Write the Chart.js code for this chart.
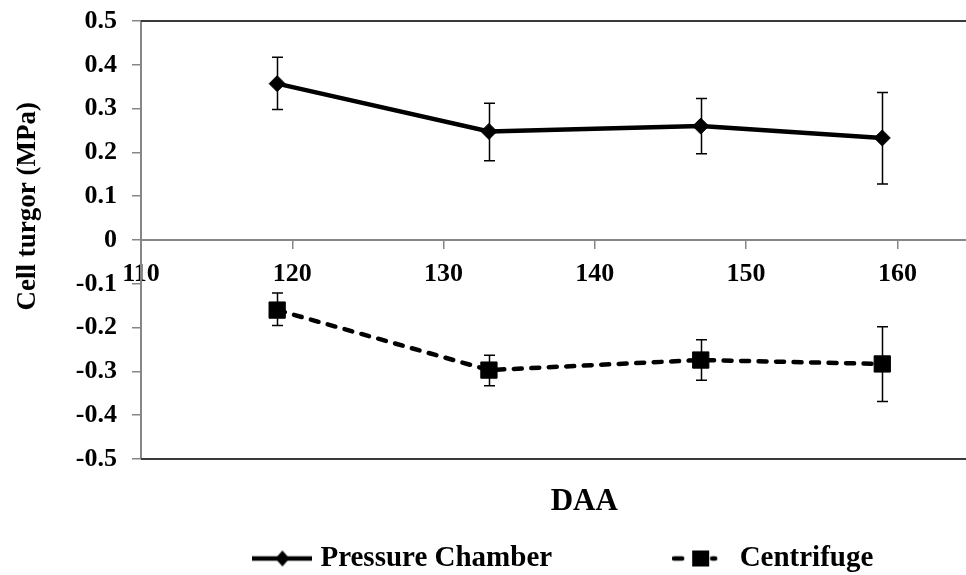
<!DOCTYPE html>
<html><head><meta charset="utf-8">
<script src="https://cdn.jsdelivr.net/npm/chart.js@4.4.1/dist/chart.umd.min.js"></script>
<style>html,body{margin:0;padding:0;background:#fff;overflow:hidden}#wrap{width:966px;height:575px;overflow:hidden;position:relative;background:#fff}canvas{display:block}</style>
</head><body><div id="wrap"><canvas id="c" width="1040" height="583"></canvas></div>
<script>
// ---- data ----
const daysAfterAnthesis = [119, 133, 147, 159];
const pressureChamber = [0.357, 0.248, 0.260, 0.233];
const pressureChamberHigh = [0.417, 0.312, 0.323, 0.337];
const pressureChamberLow = [0.298, 0.181, 0.197, 0.128];
const centrifuge = [-0.160, -0.297, -0.274, -0.283];
const centrifugeHigh = [-0.121, -0.263, -0.228, -0.198];
const centrifugeLow = [-0.195, -0.333, -0.320, -0.369];
const xTickValues = [110, 120, 130, 140, 150, 160];
const yTickLabels = ['-0.5', '-0.4', '-0.3', '-0.2', '-0.1', '0', '0.1', '0.2', '0.3', '0.4', '0.5'];
const seriesNames = ['Pressure Chamber', 'Centrifuge'];
const xTitle = 'DAA';
const yTitle = 'Cell turgor (MPa)';
const xMin = 110, xMax = 168.6, yMin = -0.5, yMax = 0.5;

const FONT = "'Liberation Serif', 'Times New Roman', serif";
const AXIS_GRAY = '#868686';

function pcIcon() {
  const c = document.createElement('canvas'); c.width = 60; c.height = 20;
  const g = c.getContext('2d');
  g.strokeStyle = '#000'; g.lineWidth = 4.5;
  g.beginPath(); g.moveTo(0, 10); g.lineTo(60, 10); g.stroke();
  g.fillStyle = '#000'; g.beginPath();
  g.moveTo(23, 10); g.lineTo(30, 2); g.lineTo(37, 10); g.lineTo(30, 18); g.closePath(); g.fill();
  return c;
}
function cfIcon() {
  const c = document.createElement('canvas'); c.width = 59; c.height = 20;
  const g = c.getContext('2d');
  g.strokeStyle = '#000'; g.lineWidth = 4.5; g.lineCap = 'round';
  g.beginPath(); g.moveTo(2, 10); g.lineTo(10, 10); g.moveTo(40, 10); g.lineTo(43, 10); g.stroke();
  g.fillStyle = '#000'; g.fillRect(20, 2, 17, 16);
  return c;
}
const icons = [pcIcon(), cfIcon()];

const errorBars = {
  id: 'errorBars',
  beforeDatasetsDraw(chart) {
    const {ctx, scales: {x, y}} = chart;
    ctx.save(); ctx.strokeStyle = '#000'; ctx.lineWidth = 1.5;
    chart.data.datasets.forEach(ds => {
      ds.errHigh.forEach((hi, i) => {
        const px = Math.round(x.getPixelForValue(ds.data[i].x)) + 0.5;
        const pt = y.getPixelForValue(hi), pb = y.getPixelForValue(ds.errLow[i]);
        ctx.beginPath();
        ctx.moveTo(px, pt); ctx.lineTo(px, pb);
        ctx.moveTo(px - 5.5, pt); ctx.lineTo(px + 5.5, pt);
        ctx.moveTo(px - 5.5, pb); ctx.lineTo(px + 5.5, pb);
        ctx.stroke();
      });
    });
    ctx.restore();
  }
};
const frame = {
  id: 'frame',
  beforeDatasetsDraw(chart) {
    const {ctx, chartArea: a} = chart;
    ctx.save(); ctx.strokeStyle = '#3a3a3a'; ctx.lineWidth = 2;
    ctx.beginPath();
    ctx.moveTo(a.left, a.top); ctx.lineTo(a.right, a.top);
    ctx.moveTo(a.left, a.bottom); ctx.lineTo(a.right, a.bottom);
    ctx.stroke(); ctx.restore();
  }
};

new Chart(document.getElementById('c'), {
  type: 'line',
  data: {
    datasets: [
      {
        label: seriesNames[0],
        data: daysAfterAnthesis.map((d, i) => ({x: d, y: pressureChamber[i]})),
        errHigh: pressureChamberHigh, errLow: pressureChamberLow,
        borderColor: '#000', borderWidth: 4.5, tension: 0,
        pointStyle: 'rectRot', pointRadius: 8, pointHoverRadius: 8,
        pointBackgroundColor: '#000', pointBorderColor: '#000', pointBorderWidth: 1,
        xAxisID: 'x', yAxisID: 'y'
      },
      {
        label: seriesNames[1],
        data: daysAfterAnthesis.map((d, i) => ({x: d, y: centrifuge[i]})),
        errHigh: centrifugeHigh, errLow: centrifugeLow,
        borderColor: '#000', borderWidth: 4.5, tension: 0,
        borderDash: [8, 9.5], borderCapStyle: 'round',
        pointStyle: 'rect', pointRadius: 11.5, pointHoverRadius: 11.5,
        pointBackgroundColor: '#000', pointBorderColor: '#000', pointBorderWidth: 1,
        xAxisID: 'x', yAxisID: 'y'
      }
    ]
  },
  options: {
    responsive: false, animation: false, devicePixelRatio: 1,
    layout: {padding: {top: 21, right: 11, bottom: 0, left: 0}},
    scales: {
      x: {
        type: 'linear', position: {y: 0}, min: xMin, max: xMax,
        afterBuildTicks: s => { s.ticks = xTickValues.map(v => ({value: v})); },
        ticks: {color: '#000', font: {family: FONT, size: 26, weight: 'bold'}, padding: 11, maxRotation: 0},
        grid: {drawOnChartArea: false, drawTicks: true, tickLength: 8, color: AXIS_GRAY, lineWidth: 1.5},
        border: {color: AXIS_GRAY, width: 2}
      },
      x2: {
        type: 'linear', position: 'bottom', min: xMin, max: xMax,
        ticks: {display: false}, grid: {display: false}, border: {display: false},
        title: {display: true, text: xTitle, color: '#000', font: {family: FONT, size: 31, weight: 'bold'}, padding: {top: 0, bottom: 13}},
        afterFit: s => { s.height = 75; }
      },
      y: {
        type: 'linear', position: 'left', min: yMin, max: yMax,
        afterBuildTicks: s => { s.ticks = yTickLabels.map(t => ({value: Number(t)})); },
        ticks: {color: '#000', font: {family: FONT, size: 26, weight: 'bold'}, padding: 15,
          callback: (v, i) => yTickLabels[i]},
        grid: {drawOnChartArea: false, drawTicks: true, tickLength: 9, color: AXIS_GRAY, lineWidth: 1.5},
        border: {color: AXIS_GRAY, width: 2},
        title: {display: true, text: '\u00A0'.repeat(10) + yTitle, color: '#000', font: {family: FONT, size: 27, weight: 'bold'}, padding: {top: 12, bottom: 0}},
        afterFit: s => { s.width = 141; s.paddingTop = 0; s.paddingBottom = 0; }
      }
    },
    plugins: {
      tooltip: {enabled: false},
      legend: {
        position: 'bottom', fullSize: false, align: 'center',
        labels: {
          usePointStyle: true, pointStyleWidth: 47, padding: 10, color: '#000',
          font: {family: FONT, size: 29, weight: 'bold'},
          generateLabels: chart => chart.data.datasets.map((ds, i) => ({
            text: i === 0 ? ds.label + '\u00A0'.repeat(16) : ds.label + '\u00A0'.repeat(5),
            pointStyle: icons[i], fillStyle: '#000', strokeStyle: '#000', lineWidth: 0,
            hidden: false, datasetIndex: i, fontColor: '#000'
          }))
        }
      }
    }
  },
  plugins: [frame, errorBars]
});
</script></body></html>
